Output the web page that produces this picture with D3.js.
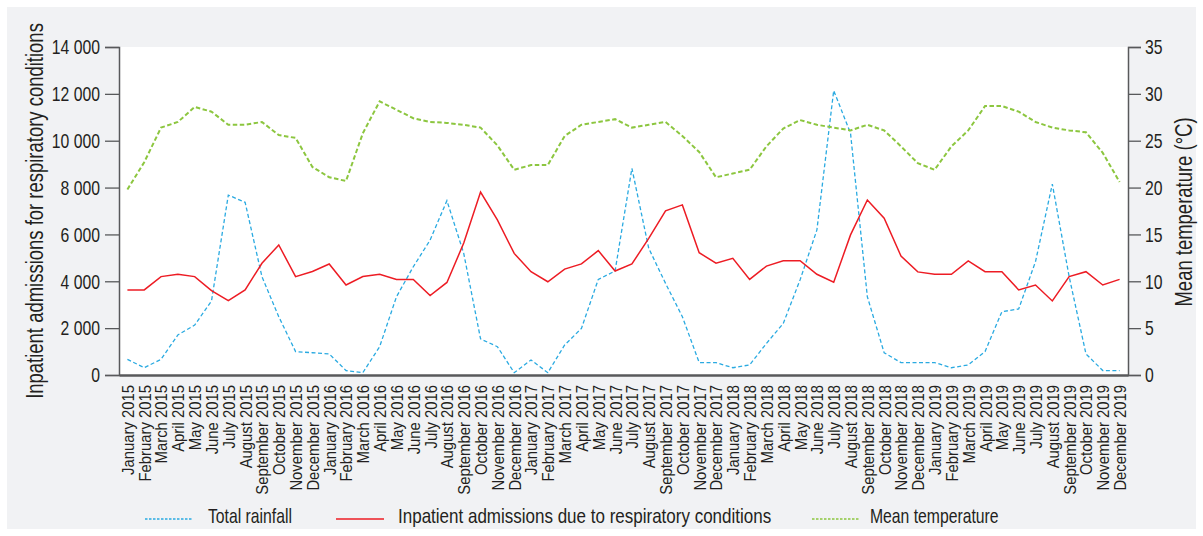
<!DOCTYPE html>
<html>
<head>
<meta charset="utf-8">
<script src="https://cdn.jsdelivr.net/npm/d3@7"></script>
<style>
  html, body { margin: 0; padding: 0; background: #ffffff; }
  svg text { font-family: "Liberation Sans", Arial, sans-serif; fill: #231f20; }
</style>
</head>
<body>
<svg id="chart" width="1203" height="536"></svg>
<script>
// Monthly series, January 2015 – December 2019
const monthNames = ["January", "February", "March", "April", "May", "June", "July",
  "August", "September", "October", "November", "December"];
const years = [2015, 2016, 2017, 2018, 2019];
const categories = years.flatMap(y => monthNames.map(m => `${m} ${y}`));

// Total rainfall (plotted on the left axis)
const rainfall = [
  670, 310, 670, 1710, 2130, 3160, 7680, 7370, 4200, 2490, 1000, 950,
  900, 190, 100, 1210, 3340, 4620, 5760, 7440, 5190, 1540, 1210, 100,
  640, 100, 1280, 1990, 4080, 4440, 8820, 5410, 3910, 2490, 530, 530,
  310, 430, 1350, 2200, 4060, 6190, 12140, 10320, 3340, 950, 530, 530,
  530, 310, 430, 1000, 2700, 2820, 4840, 8150, 4200, 900, 190, 190
];

// Inpatient admissions due to respiratory conditions (left axis)
const admissions = [
  3630, 3630, 4200, 4300, 4200, 3600, 3170, 3630, 4770, 5550, 4200, 4420,
  4740, 3840, 4200, 4300, 4080, 4080, 3390, 3950, 5630, 7810, 6620, 5190,
  4410, 3980, 4520, 4740, 5310, 4440, 4740, 5830, 7010, 7260, 5220, 4770,
  4980, 4080, 4650, 4880, 4880, 4300, 3960, 5980, 7470, 6690, 5080, 4400,
  4300, 4300, 4870, 4410, 4410, 3630, 3840, 3160, 4200, 4410, 3840, 4080
];

// Mean temperature, °C (right axis)
const temperature = [
  19.8, 22.7, 26.4, 27.0, 28.6, 28.1, 26.7, 26.7, 27.0, 25.6, 25.3, 22.2,
  21.1, 20.7, 25.8, 29.2, 28.3, 27.4, 27.0, 26.9, 26.7, 26.4, 24.5, 21.9,
  22.4, 22.4, 25.5, 26.7, 27.0, 27.3, 26.4, 26.7, 27.0, 25.5, 23.8, 21.1,
  21.5, 21.9, 24.4, 26.3, 27.2, 26.7, 26.4, 26.1, 26.7, 26.1, 24.4, 22.6,
  21.9, 24.4, 26.1, 28.7, 28.7, 28.1, 27.0, 26.4, 26.1, 25.9, 23.7, 20.6
];

const leftTicks = [0, 2000, 4000, 6000, 8000, 10000, 12000, 14000];
const rightTicks = [0, 5, 10, 15, 20, 25, 30, 35];
const seriesNames = ["Total rainfall", "Inpatient admissions due to respiratory conditions", "Mean temperature"];

const svg = d3.select("#chart");
const plot = { left: 119, right: 1128, top: 47, bottom: 375 };
const axisColor = "#58595b";

// Narrow text: squeeze glyphs horizontally around their anchor point
function condense(sel, sx) {
  sel.each(function () {
    const t = d3.select(this);
    const xa = +t.attr("x") || 0;
    const ya = +t.attr("y") || 0;
    const pre = t.attr("data-pre") || "";
    t.attr("x", 0).attr("y", 0)
      .attr("transform", `${pre} translate(${xa},${ya}) scale(${sx},1)`);
  });
}

// Panel background and plotting area
svg.append("rect").attr("x", 7).attr("y", 7).attr("width", 1189).attr("height", 522).attr("fill", "#f1f2f4");
svg.append("rect").attr("x", plot.left).attr("y", plot.top)
  .attr("width", plot.right - plot.left).attr("height", plot.bottom - plot.top).attr("fill", "#ffffff");

const x = d3.scalePoint().domain(categories).range([plot.left, plot.right]).padding(0.5);
const yLeft = d3.scaleLinear().domain([0, 14000]).range([plot.bottom, plot.top]);
const yRight = d3.scaleLinear().domain([0, 35]).range([plot.bottom, plot.top]);

const fmt = d3.formatLocale({ decimal: ".", thousands: " ", grouping: [3], currency: ["", ""] }).format(",d");

// Left axis
const gl = svg.append("g").attr("transform", `translate(${plot.left},0)`)
  .call(d3.axisLeft(yLeft).tickValues(leftTicks).tickFormat(fmt).tickSizeOuter(0).tickSize(14).tickPadding(5));
// Right axis
const gr = svg.append("g").attr("transform", `translate(${plot.right},0)`)
  .call(d3.axisRight(yRight).tickValues(rightTicks).tickSizeOuter(0).tickSize(13).tickPadding(4));
// Bottom axis with rotated month labels
const gb = svg.append("g").attr("transform", `translate(0,${plot.bottom})`)
  .call(d3.axisBottom(x).tickSize(0).tickSizeOuter(0).tickPadding(0));

[gl, gr].forEach(g => {
  g.select(".domain").attr("stroke", axisColor).attr("stroke-width", 1.5);
  g.selectAll(".tick line").attr("stroke", axisColor).attr("stroke-width", 1.3);
  g.selectAll(".tick text").attr("font-size", 21).attr("fill", "#231f20").call(condense, 0.75);
});
gb.select(".domain").attr("stroke", axisColor).attr("stroke-width", 2.5);
gb.selectAll(".tick text")
  .attr("font-size", 16.5)
  .attr("text-anchor", "end")
  .attr("dy", "0.36em")
  .attr("x", -10)
  .attr("y", 0)
  .attr("data-pre", "rotate(-90)")
  .call(condense, 0.9);

// Series lines
const lineLeft = d3.line().x((d, i) => x(categories[i])).y(d => yLeft(d));
const lineRight = d3.line().x((d, i) => x(categories[i])).y(d => yRight(d));

const styles = [
  { color: "#2aaae1", width: 1.3, dash: "4,2.5" },
  { color: "#ed1c24", width: 1.5, dash: null },
  { color: "#8cc63f", width: 2, dash: "4.5,2.5" }
];

svg.append("path").datum(rainfall).attr("d", lineLeft).attr("fill", "none")
  .attr("stroke", styles[0].color).attr("stroke-width", styles[0].width).attr("stroke-dasharray", styles[0].dash);
svg.append("path").datum(admissions).attr("d", lineLeft).attr("fill", "none")
  .attr("stroke", styles[1].color).attr("stroke-width", styles[1].width);
svg.append("path").datum(temperature).attr("d", lineRight).attr("fill", "none")
  .attr("stroke", styles[2].color).attr("stroke-width", styles[2].width).attr("stroke-dasharray", styles[2].dash);

// Axis titles
svg.append("text").attr("x", -211).attr("y", 43).attr("data-pre", "rotate(-90)")
  .attr("text-anchor", "middle").attr("font-size", 24)
  .text("Inpatient admissions for respiratory conditions").call(condense, 0.77);
svg.append("text").attr("x", -212).attr("y", 1192).attr("data-pre", "rotate(-90)")
  .attr("text-anchor", "middle").attr("font-size", 24)
  .text("Mean temperature (°C)").call(condense, 0.77);

// Legend
const legendItems = [
  { x0: 145, tx: 208, sx: 0.75 },
  { x0: 336, tx: 398, sx: 0.81 },
  { x0: 812, tx: 870, sx: 0.75 }
];
legendItems.forEach((item, i) => {
  const s = styles[i];
  svg.append("line").attr("x1", item.x0).attr("x2", item.x0 + 48).attr("y1", 519).attr("y2", 519)
    .attr("stroke", s.color).attr("stroke-width", 1.5)
    .attr("stroke-dasharray", s.dash ? "2.5,1.5" : null);
  svg.append("text").attr("x", item.tx).attr("y", 523)
    .attr("font-size", 21).text(seriesNames[i]).call(condense, item.sx);
});
</script>
</body>
</html>
